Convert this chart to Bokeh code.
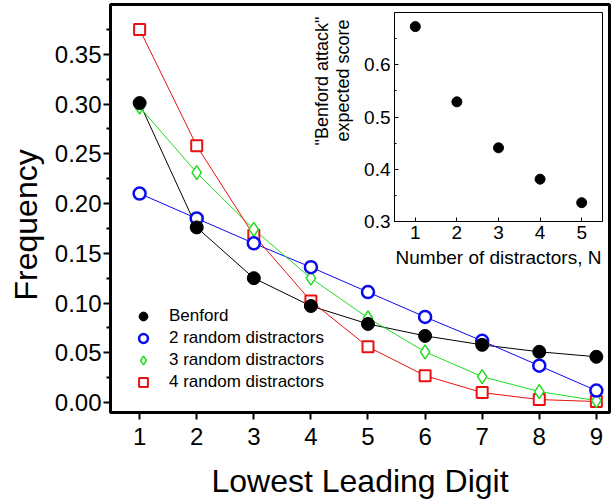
from bokeh.plotting import figure
from bokeh.models import (SingleIntervalTicker, FixedTicker, Legend, LegendItem, Title,
                          PrintfTickFormatter, Range1d)
from bokeh.layouts import column
from bokeh.embed import file_html
from bokeh.resources import INLINE

# ---- data ----
digits = [1, 2, 3, 4, 5, 6, 7, 8, 9]
benford = [0.301, 0.176, 0.125, 0.097, 0.079, 0.067, 0.058, 0.051, 0.046]
rand2 = [0.210, 0.185, 0.160, 0.136, 0.111, 0.086, 0.062, 0.037, 0.012]
rand3 = [0.297, 0.231, 0.174, 0.125, 0.085, 0.051, 0.026, 0.011, 0.002]
rand4 = [0.375, 0.258, 0.168, 0.102, 0.056, 0.027, 0.010, 0.003, 0.001]
series_labels = ["Benford", "2 random distractors", "3 random distractors", "4 random distractors"]
main_y_ticks = [0.00, 0.05, 0.10, 0.15, 0.20, 0.25, 0.30, 0.35]
main_y_minor = [0.025, 0.075, 0.125, 0.175, 0.225, 0.275, 0.325, 0.375]

n_distractors = [1, 2, 3, 4, 5]
attack_score = [0.673, 0.529, 0.441, 0.381, 0.336]
inset_y_ticks = [0.3, 0.4, 0.5, 0.6]
inset_y_minor = [0.35, 0.45, 0.55, 0.65]
inset_x_ticks = [1, 2, 3, 4, 5]

FONT = "Liberation Sans"

# ---- main figure ----
p = figure(width=614, height=502, x_range=Range1d(0.49, 9.23), y_range=Range1d(-0.01, 0.40),
           output_backend="svg", toolbar_location=None,
           min_border_left=107, min_border_right=3, min_border_top=4, min_border_bottom=90)
p.outline_line_color = "black"
p.outline_line_width = 3
p.xgrid.visible = False
p.ygrid.visible = False
p.background_fill_color = "white"

xa = p.xaxis[0]
xa.ticker = SingleIntervalTicker(interval=1, num_minor_ticks=0)
xa.axis_line_width = 3
xa.major_tick_line_width = 2
xa.major_tick_out = 7
xa.major_tick_in = 0
xa.minor_tick_out = 0
xa.minor_tick_in = 0
xa.major_label_standoff = 8
xa.major_label_text_font = FONT
xa.major_label_text_font_size = "24px"
xa.major_label_text_color = "black"
xa.axis_label = "Lowest Leading Digit"
xa.axis_label_text_font = FONT
xa.axis_label_text_font_size = "32px"
xa.axis_label_text_font_style = "normal"
xa.axis_label_text_color = "black"
xa.axis_label_standoff = 15

ya = p.yaxis[0]
ya.ticker = FixedTicker(ticks=main_y_ticks, minor_ticks=main_y_minor)
ya.formatter = PrintfTickFormatter(format="%.2f")
ya.axis_line_width = 3
ya.major_tick_line_width = 2
ya.major_tick_out = 7
ya.major_tick_in = 0
ya.minor_tick_line_width = 2
ya.minor_tick_out = 4
ya.minor_tick_in = 0
ya.major_label_standoff = 2
ya.major_label_text_font = FONT
ya.major_label_text_font_size = "24px"
ya.major_label_text_color = "black"

p.add_layout(Title(text="Frequency", align="left", offset=112, vertical_align="top", standoff=12,
                   text_font=FONT, text_font_size="32px", text_font_style="normal",
                   text_color="black"), "left")

line_specs = [
    (benford, "black", "circle", 13, "black", 1),
    (rand2, "#0a0aee", "circle", 12, "white", 2.5),
    (rand3, "#1fdc1f", "diamond", 14, "white", 1.5),
    (rand4, "#e81010", "square", 11, "white", 2),
]
for (vals, col, mk, sz, fill, lw) in line_specs:
    p.line(digits, vals, line_color=col, line_width=1)
marker_renderers = {}
for (vals, col, mk, sz, fill, lw), lab in list(zip(line_specs, series_labels))[::-1]:
    marker_renderers[lab] = p.scatter(digits, vals, marker=mk, size=sz, line_color=col,
                                      fill_color=fill, line_width=lw)
items = [LegendItem(label=lab, renderers=[marker_renderers[lab]]) for lab in series_labels]

legend = Legend(items=items, location=(17, 19), border_line_alpha=0, background_fill_alpha=0,
                padding=0, margin=0, spacing=0, glyph_width=32, glyph_height=22,
                label_height=20, label_standoff=10, label_text_font=FONT,
                label_text_font_size="17px", label_text_color="black")
p.add_layout(legend)

# ---- inset figure ----
q = figure(width=323, height=261, x_range=Range1d(0.5, 5.5), y_range=Range1d(0.3, 0.7),
           output_backend="svg", toolbar_location=None,
           min_border_left=110, min_border_right=5, min_border_top=2, min_border_bottom=50)
q.background_fill_alpha = 0
q.border_fill_alpha = 0
q.outline_line_color = "black"
q.outline_line_width = 1
q.xgrid.visible = False
q.ygrid.visible = False
q.margin = (-492, 0, 0, 284)

qx = q.xaxis[0]
qx.ticker = FixedTicker(ticks=inset_x_ticks)
qx.major_tick_in = 4
qx.major_tick_out = 0
qx.minor_tick_in = 0
qx.minor_tick_out = 0
qx.major_label_standoff = 4
qx.major_label_text_font = FONT
qx.major_label_text_font_size = "19px"
qx.major_label_text_color = "black"
qx.axis_label = "Number of distractors, N"
qx.axis_label_text_font = FONT
qx.axis_label_text_font_size = "19px"
qx.axis_label_text_font_style = "normal"
qx.axis_label_text_color = "black"
qx.axis_label_standoff = 5

qy = q.yaxis[0]
qy.ticker = FixedTicker(ticks=inset_y_ticks, minor_ticks=inset_y_minor)
qy.formatter = PrintfTickFormatter(format="%.1f")
qy.major_tick_in = 4
qy.major_tick_out = 0
qy.minor_tick_in = 2
qy.minor_tick_out = 0
qy.major_label_standoff = 4
qy.major_label_text_font = FONT
qy.major_label_text_font_size = "19px"
qy.major_label_text_color = "black"

q.add_layout(Title(text="expected score", align="left", offset=80, vertical_align="top", standoff=14,
                   text_font=FONT, text_font_size="18px", text_font_style="normal",
                   text_color="black"), "left")
q.add_layout(Title(text='"Benford attack"', align="left", offset=76, vertical_align="bottom", standoff=-12,
                   text_font=FONT, text_font_size="18px", text_font_style="normal",
                   text_color="black"), "left")

q.scatter(n_distractors, attack_score, marker="circle", size=10, fill_color="black", line_color="black")

layout = column(p, q, spacing=0)
open("out.html", "w").write(file_html(layout, INLINE))
